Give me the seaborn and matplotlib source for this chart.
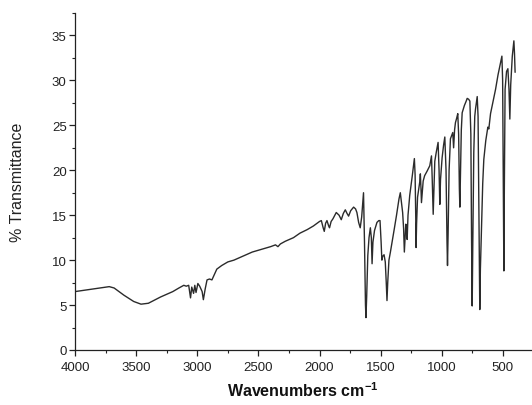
import numpy as np
import pandas as pd
import matplotlib
matplotlib.use("Agg")
import matplotlib.pyplot as plt
import seaborn as sns
from matplotlib.ticker import MultipleLocator

wavenumber = [
    4000, 3900, 3800, 3720, 3680, 3600, 3520, 3460, 3400, 3300, 3200, 3150, 3110, 3090, 3070,
    3055, 3045, 3030, 3020, 3010, 2995, 2980, 2960, 2950, 2935, 2920, 2900, 2880, 2860, 2840,
    2800, 2750, 2700, 2650, 2600, 2550, 2500, 2450, 2400, 2360, 2340, 2320, 2280, 2213, 2160,
    2100, 2050, 2000, 1985, 1970, 1961, 1950, 1939, 1925, 1918, 1905, 1890, 1875, 1863, 1840,
    1822, 1805, 1789, 1775, 1762, 1745, 1721, 1705, 1694, 1680, 1667, 1655, 1640, 1632, 1624,
    1620, 1614, 1605, 1595, 1584, 1576, 1570, 1563, 1550, 1530, 1515, 1505, 1496, 1490, 1484,
    1472, 1462, 1454, 1448, 1442, 1432, 1420, 1400, 1388, 1370, 1350, 1339, 1330, 1320, 1312,
    1306, 1300, 1294, 1289, 1283, 1276, 1262, 1240, 1224, 1218, 1213, 1210, 1206, 1198, 1188,
    1180, 1175, 1170, 1166, 1160, 1152, 1140, 1120, 1098, 1084, 1078, 1070, 1064, 1057, 1045,
    1030, 1022, 1016, 1010, 997, 985, 975, 965, 957, 953, 948, 940, 929, 915, 910,
    903, 895, 888, 878, 869, 862, 856, 852, 848, 840, 833, 815, 800, 792, 780,
    770, 762, 756, 751, 746, 738, 730, 724, 710, 703, 696, 689, 684, 677, 672,
    665, 656, 640, 623, 615, 601, 580, 560, 540, 525, 508, 502, 496, 492, 488,
    482, 470, 459, 450, 443, 436, 423, 410, 405, 400,
]
transmittance = [
    6.5, 6.7, 6.9, 7.05, 6.9, 6.1, 5.4, 5.1, 5.2, 5.9, 6.5, 6.9, 7.2, 7.1, 7.2,
    5.8, 7.0, 6.3, 7.2, 6.4, 7.4, 7.1, 6.5, 5.6, 6.8, 7.8, 7.9, 7.8, 8.4, 9.0,
    9.4, 9.8, 10.0, 10.3, 10.6, 10.9, 11.1, 11.3, 11.5, 11.7, 11.5, 11.8, 12.1, 12.5, 13.0,
    13.4, 13.8, 14.3, 14.4, 13.6, 13.2, 14.1, 14.4, 13.8, 13.6, 14.3, 14.6, 15.0, 15.3, 15.0,
    14.5, 15.2, 15.6, 15.2, 14.9, 15.5, 15.9, 15.7, 15.3, 14.2, 13.6, 14.8, 17.5, 12.0, 5.0,
    3.6, 6.0, 10.5, 12.5, 13.6, 12.5, 9.6, 12.0, 13.3, 14.2, 14.4, 14.4, 12.0, 10.0, 10.4,
    10.6, 9.8, 7.5, 5.5, 7.5, 10.0, 10.9, 12.5, 13.5, 15.0, 16.8, 17.5, 16.5, 15.3, 13.5,
    10.9, 12.5, 14.0, 13.8, 12.3, 15.0, 17.2, 19.5, 21.3, 19.5, 15.0, 11.4, 14.0, 17.0, 17.9,
    18.7, 19.6, 18.0, 16.4, 17.5, 18.8, 19.4, 19.9, 20.5, 21.6, 19.0, 15.1, 18.0, 21.0, 22.0,
    23.1, 20.0, 16.2, 19.0, 21.4, 22.8, 23.7, 20.0, 12.0, 9.4, 13.0, 20.0, 23.5, 24.0, 24.2,
    22.5, 24.5, 25.3, 25.8, 26.3, 24.0, 18.0, 15.9, 19.0, 24.5, 26.4, 27.2, 27.7, 28.0, 27.9,
    27.7, 24.0, 12.0, 4.9, 12.0, 22.0, 26.0, 26.8, 28.2, 26.0, 15.0, 4.5, 9.0, 12.3, 15.0,
    18.5, 21.2, 23.3, 24.8, 24.6, 26.3, 27.7, 29.0, 30.6, 31.6, 32.7, 30.0, 18.0, 8.8, 18.0,
    29.0, 31.0, 31.3, 29.0, 25.7, 29.5, 32.7, 34.4, 33.0, 30.9,
]
x_ticks = [4000, 3500, 3000, 2500, 2000, 1500, 1000, 500]
y_ticks = [0, 5, 10, 15, 20, 25, 30, 35]

sns.set_style("ticks")
plt.rcParams["font.family"] = ["Liberation Sans", "DejaVu Sans"]
plt.rcParams["mathtext.default"] = "regular"

df = pd.DataFrame({"w": wavenumber, "T": transmittance})

fig = plt.figure(figsize=(5.32, 4.06), dpi=100)
ax = fig.add_axes([75 / 532, 55 / 406, 456 / 532, 337 / 406])
sns.lineplot(data=df, x="w", y="T", sort=False, estimator=None, ax=ax,
             color="#2b2b2b", linewidth=1.0)

ax.set_xlim(4000, 270)
ax.set_ylim(0, 37.5)
ax.set_xticks(x_ticks)
ax.set_xticklabels([str(v) for v in x_ticks])
ax.set_yticks(y_ticks)
ax.set_yticklabels([str(v) for v in y_ticks])
ax.xaxis.set_minor_locator(MultipleLocator(250))
ax.yaxis.set_minor_locator(MultipleLocator(2.5))
ax.tick_params(axis="x", which="major", pad=4)
ax.tick_params(axis="y", which="major", pad=2)
ax.tick_params(which="major", direction="out", length=4, width=0.9,
               labelsize=9.5, colors="#222222")
ax.tick_params(which="minor", direction="out", length=2.5, width=0.8, colors="#222222")
sns.despine(ax=ax)
for s in ("left", "bottom"):
    ax.spines[s].set_linewidth(0.9)
    ax.spines[s].set_color("#222222")

ax.set_xlabel(r"Wavenumbers cm$^{-1}$", fontsize=11.5, fontweight="bold",
              color="#111111", labelpad=5)
ax.set_ylabel("% Transmittance", fontsize=11.5, color="#222222", labelpad=19)

fig.savefig("out.png", dpi=100)
